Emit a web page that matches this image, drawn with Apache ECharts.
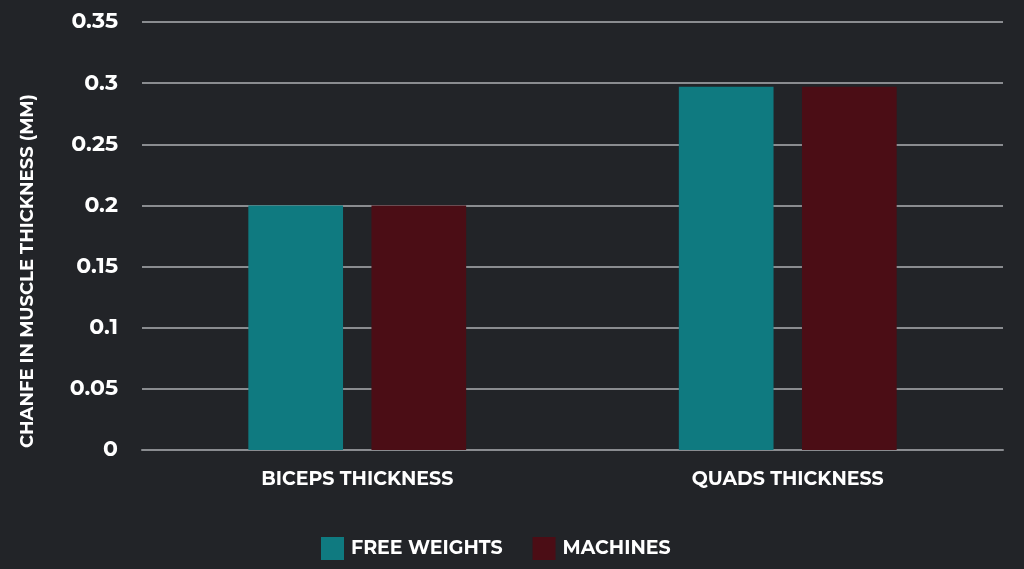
<!DOCTYPE html>
<html><head><meta charset="utf-8">
<script src="https://cdn.jsdelivr.net/npm/echarts@6/dist/echarts.min.js"></script>
<style>html,body{margin:0;padding:0;background:#222428;}#c{width:1024px;height:569px;}</style>
</head><body><div id="c"></div>
<script>
const categories = ['BICEPS THICKNESS', 'QUADS THICKNESS'];
const freeWeights = [0.2, 0.297];
const machines = [0.2, 0.297];
const yTicks = {min: 0, max: 0.35, interval: 0.05};
const yTitle = 'CHANFE IN MUSCLE THICKNESS (MM)';
const font = 'Montserrat, Inter, "Open Sans", sans-serif';
const chart = echarts.init(document.getElementById('c'), null, {renderer: 'canvas'});
chart.setOption({
  backgroundColor: '#222428',
  animation: false,
  grid: {left: 142, right: 21, top: 22, bottom: 119},
  graphic: [{
    type: 'text', x: 28, y: 271, rotation: Math.PI / 2,
    style: {text: yTitle, fill: '#ffffff', fontSize: 18, fontWeight: 'bold', fontFamily: font,
      align: 'center', verticalAlign: 'middle'}
  }],
  legend: {
    top: 532, left: 316, itemWidth: 23, itemHeight: 23, itemGap: 30,
    icon: 'rect',
    textStyle: {color: '#ffffff', fontSize: 19, fontWeight: 'bold', fontFamily: font, padding: [0, 0, 0, 2]},
    data: ['FREE WEIGHTS', 'MACHINES']
  },
  xAxis: {
    type: 'category', data: categories,
    axisLine: {lineStyle: {color: '#8a8c90', width: 2}},
    axisTick: {show: false},
    axisLabel: {color: '#ffffff', fontSize: 19, fontWeight: 'bold', fontFamily: font, margin: 20}
  },
  yAxis: {
    type: 'value', min: yTicks.min, max: yTicks.max, interval: yTicks.interval,
    axisLine: {show: false}, axisTick: {show: false},
    splitLine: {lineStyle: {color: '#8a8c90', width: 2}},
    axisLabel: {color: '#ffffff', fontSize: 22, fontWeight: 'bold', fontFamily: font, margin: 24,
      formatter: v => String(+v.toFixed(2))}
  },
  series: [
    {name: 'FREE WEIGHTS', type: 'bar', data: freeWeights, barWidth: '22%', barGap: '30%',
     itemStyle: {color: '#0f7a80'}},
    {name: 'MACHINES', type: 'bar', data: machines, barWidth: '22%', barGap: '30%',
     itemStyle: {color: '#4b0d15'}}
  ]
});
</script></body></html>
